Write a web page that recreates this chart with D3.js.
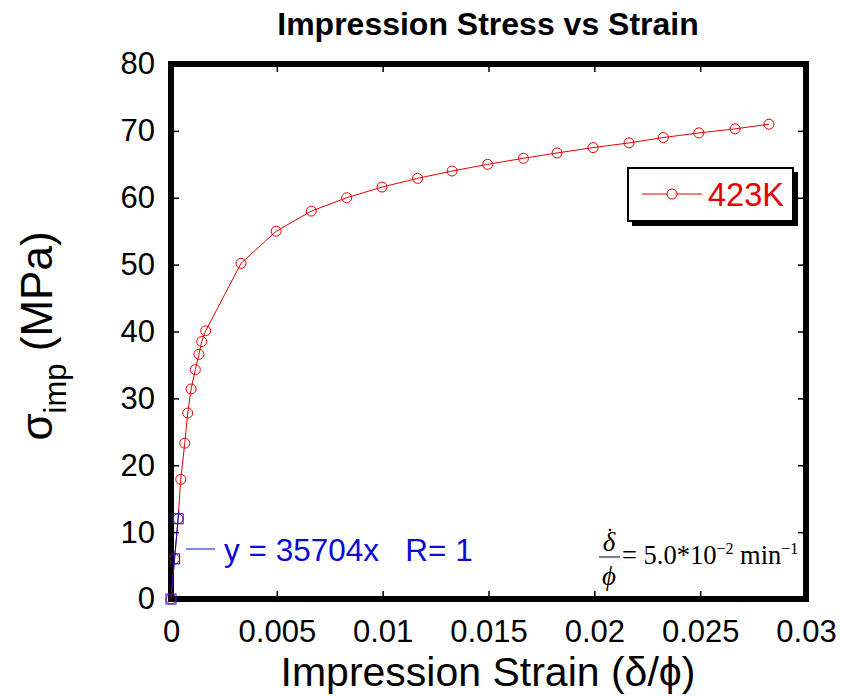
<!DOCTYPE html>
<html><head><meta charset="utf-8">
<script src="https://cdn.jsdelivr.net/npm/d3@7"></script>
<style>body{margin:0;background:#fff}svg{display:block}</style>
</head><body>
<script>
const strain = [0, 0.000168, 0.000336, 0.00046, 0.00065, 0.00079, 0.00095, 0.00115, 0.00132, 0.00145, 0.00164, 0.00331, 0.00497, 0.00663, 0.0083, 0.00997, 0.01165, 0.01328, 0.01496, 0.01665, 0.01824, 0.01994, 0.02164, 0.02326, 0.02494, 0.02665, 0.02825];
const stress = [0, 6, 12, 17.9, 23.3, 27.8, 31.4, 34.3, 36.6, 38.5, 40.1, 50.2, 55.0, 58.0, 60.0, 61.6, 62.9, 64.0, 65.0, 65.9, 66.7, 67.5, 68.2, 69.0, 69.7, 70.3, 71.0];
const fitStrain = [0, 0.000168, 0.000336];
const fitStress = [0, 6, 12];
const fitSlope = 35704;
const xTicks = [0, 0.005, 0.01, 0.015, 0.02, 0.025, 0.03];
const yTicks = [0, 10, 20, 30, 40, 50, 60, 70, 80];
const seriesName = "423K";
const fitLabel = "y = 35704x   R= 1";
const titleText = "Impression Stress vs Strain";

const W = 841, H = 696;
const L = 171, R = 806, T = 64, B = 599;
const svg = d3.select("body").append("svg").attr("width", W).attr("height", H);
const x = d3.scaleLinear().domain([0, 0.03]).range([L, R]);
const y = d3.scaleLinear().domain([0, 80]).range([B, T]);
const font = "Liberation Sans, Arial, Helvetica, sans-serif";
const RED = "#e60000", BLUE = "#0a0ad8";

// title
svg.append("text").attr("x", 488).attr("y", 35).attr("text-anchor", "middle")
  .attr("font-family", font).attr("font-weight", "bold").attr("font-size", 32).text(titleText);

// axes with inner ticks
const axB = d3.axisBottom(x).tickValues(xTicks).tickSize(-8).tickPadding(21).tickFormat(d => d === 0 ? "0" : String(+d.toFixed(3)));
const axT = d3.axisTop(x).tickValues(xTicks.slice(1, -1)).tickSize(-8).tickFormat("");
const axL = d3.axisLeft(y).tickValues(yTicks).tickSize(-8).tickPadding(16);
const axR = d3.axisRight(y).tickValues(yTicks.slice(1, -1)).tickSize(-8).tickFormat("");
function style(g) {
  g.select(".domain").remove();
  g.selectAll(".tick line").attr("stroke", "#000").attr("stroke-width", 1.5);
  g.selectAll(".tick text").attr("font-family", font).attr("font-size", 31).attr("fill", "#000");
}
svg.append("g").attr("transform", `translate(0,${B})`).call(axB).call(style);
svg.append("g").attr("transform", `translate(0,${T})`).call(axT).call(style);
svg.append("g").attr("transform", `translate(${L},0)`).call(axL).call(style);
svg.append("g").attr("transform", `translate(${R},0)`).call(axR).call(style);
svg.selectAll(".tick line").filter(function(d){ return d === 0 || d === 0.03 || d === 80; }).remove();

// frame
svg.append("rect").attr("x", L).attr("y", T).attr("width", R - L).attr("height", B - T)
  .attr("fill", "none").attr("stroke", "#000").attr("stroke-width", 6);

// axis titles
svg.append("text").attr("x", 488).attr("y", 686).attr("text-anchor", "middle")
  .attr("font-family", font).attr("font-size", 41).text("Impression Strain (δ/ϕ)");
const yl = svg.append("text").attr("transform", `translate(52,336) rotate(-90)`).attr("text-anchor", "middle")
  .attr("font-family", font).attr("font-size", 44);
yl.append("tspan").text("σ");
yl.append("tspan").attr("font-size", 31).attr("dy", 14).text("imp");
yl.append("tspan").attr("dy", -14).text(" (MPa)");

// red series
const pts = strain.map((s, i) => [s, stress[i]]);
svg.append("path").datum(pts).attr("fill", "none").attr("stroke", RED).attr("stroke-width", 1)
  .attr("d", d3.line().x(d => x(d[0])).y(d => y(d[1])));
svg.selectAll(".c").data(pts).enter().append("circle")
  .attr("cx", d => x(d[0])).attr("cy", d => y(d[1])).attr("r", 5)
  .attr("fill", "none").attr("stroke", RED).attr("stroke-width", 1);

// blue fit
const fpts = fitStrain.map((s, i) => [s, fitStress[i]]);
svg.append("line").attr("x1", x(0)).attr("y1", y(0)).attr("x2", x(0.00037)).attr("y2", y(fitSlope * 0.00037))
  .attr("stroke", BLUE).attr("stroke-width", 1);
svg.selectAll(".s").data(fpts).enter().append("rect")
  .attr("x", d => x(d[0]) - 5).attr("y", d => y(d[1]) - 5).attr("width", 10).attr("height", 10)
  .attr("fill", "none").attr("stroke", BLUE).attr("stroke-width", 1);
svg.append("line").attr("x1", 186).attr("x2", 215).attr("y1", 549).attr("y2", 549).attr("stroke", BLUE).attr("stroke-width", 1);
svg.append("text").attr("x", 224).attr("y", 561).attr("font-family", font).attr("font-size", 31.5)
  .attr("fill", BLUE).style("white-space", "pre").text(fitLabel);

// legend
svg.append("rect").attr("x", 632).attr("y", 172).attr("width", 166).attr("height", 54).attr("fill", "#000");
svg.append("rect").attr("x", 628).attr("y", 168).attr("width", 165).attr("height", 53)
  .attr("fill", "#fff").attr("stroke", "#000").attr("stroke-width", 2);
svg.append("line").attr("x1", 642).attr("x2", 702).attr("y1", 194).attr("y2", 194).attr("stroke", RED).attr("stroke-width", 1);
svg.append("circle").attr("cx", 672).attr("cy", 194).attr("r", 5).attr("fill", "#fff").attr("stroke", RED);
svg.append("text").attr("x", 708).attr("y", 206).attr("font-family", font).attr("font-size", 32.5)
  .attr("fill", RED).text(seriesName);

// rate formula
const serif = "Liberation Serif, Times New Roman, serif";
const fg = svg.append("g").attr("font-family", serif).attr("fill", "#000");
fg.append("text").attr("x", 609).attr("y", 551).attr("text-anchor", "middle").attr("font-size", 27).attr("font-style", "italic").text("δ");
fg.append("circle").attr("cx", 610).attr("cy", 530).attr("r", 1.3).attr("fill", "#000");
fg.append("line").attr("x1", 599).attr("x2", 620).attr("y1", 557).attr("y2", 557).attr("stroke", "#000").attr("stroke-width", 1);
fg.append("text").attr("x", 609).attr("y", 585).attr("text-anchor", "middle").attr("font-size", 27).attr("font-style", "italic").text("ϕ");
const ft = fg.append("text").attr("x", 622).attr("y", 564).attr("font-size", 26.5);
ft.append("tspan").text("= 5.0*10");
ft.append("tspan").attr("font-size", 16).attr("dy", -10).text("−2");
ft.append("tspan").attr("dy", 10).text(" min");
ft.append("tspan").attr("font-size", 16).attr("dy", -10).text("−1");
</script>
</body></html>
